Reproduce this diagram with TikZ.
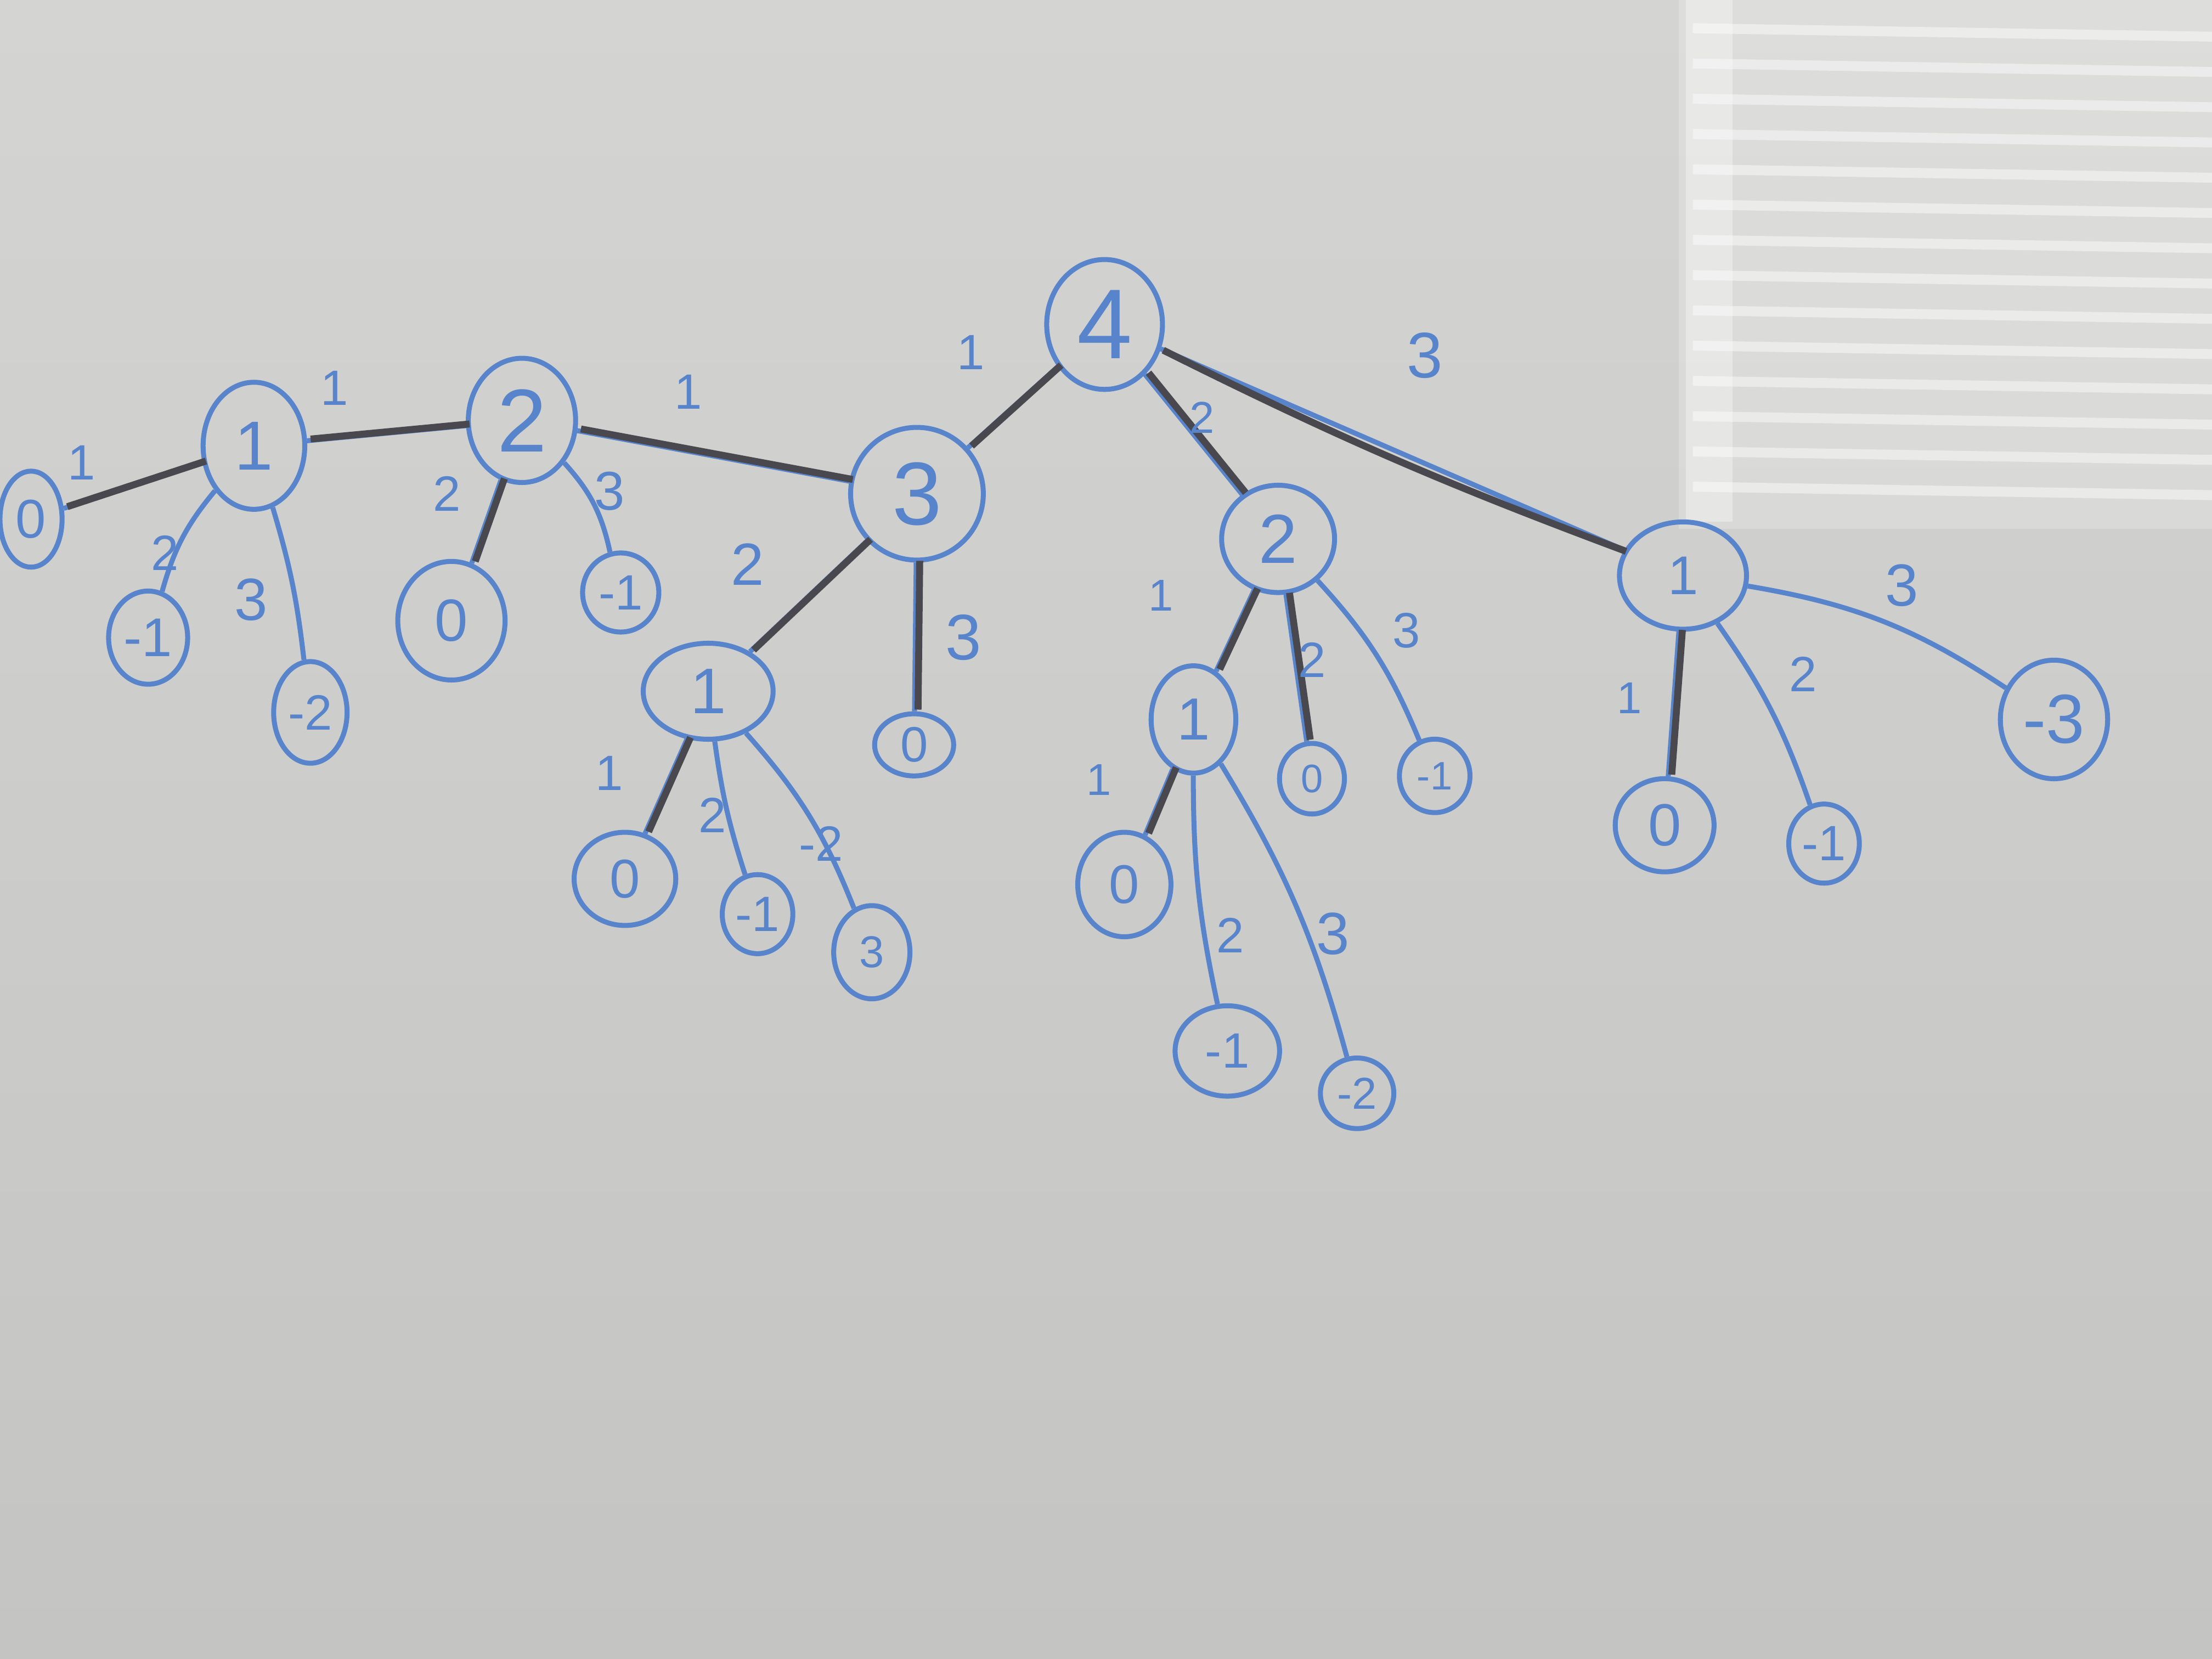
\documentclass[tikz,border=0pt]{standalone}
\usepackage{fontspec}
\setsansfont{Liberation Sans}
\usetikzlibrary{shapes.geometric}
\definecolor{mblue}{RGB}{88,132,204}
\definecolor{mdark}{RGB}{72,72,78}
\definecolor{bgtop}{RGB}{212,212,210}
\definecolor{bgbot}{RGB}{196,196,194}
\tikzset{
  nd/.style={ellipse, draw=mblue, line width=1pt, text=mblue, inner sep=0pt},
  ell/.style n args={3}{minimum width=#1*0.02cm, minimum height=#2*0.02cm, font=\sffamily\fontsize{#3}{#3}\selectfont},
  edge/.style={draw=mblue, line width=1pt},
  hl/.style={draw=mdark, line width=1.4pt, transform canvas={shift={(0.025cm,0.012cm)}}},
  el/.style={text=mblue, font=\sffamily\fontsize{#1}{#1}\selectfont},
  el/.default=10
}
\begin{document}
\begin{tikzpicture}[x=0.01cm, y=-0.01cm]
\useasboundingbox (0,0) rectangle (1568,1176);
% board background
\shade[top color=bgtop, bottom color=bgbot] (0,0) rectangle (1568,1176);
% window reflection
\fill[white, opacity=0.22] (1190,0) rectangle (1568,375);
\foreach \yy in {20,45,70,95,120,145,170,195,220,245,270,295,320,345}
  \draw[white, opacity=0.45, line width=2pt] (1200,\yy) -- (1568,\yy+6);
\fill[white, opacity=0.35] (1195,0) rectangle (1228,370);

% nodes
\node[nd, ell={22}{34}{11}] (n0a) at (22,368) {0};
\node[nd, ell={36}{45}{14}] (n1a) at (180,316) {1};
\node[nd, ell={28}{33}{11}] (n1aL) at (105,452) {-1};
\node[nd, ell={26}{36}{10}] (n1aR) at (220,505) {-2};
\node[nd, ell={38}{44}{18}] (n2a) at (370,298) {2};
\node[nd, ell={38}{42}{12}] (n2aL) at (320,440) {0};
\node[nd, ell={27}{28}{10}] (n2aR) at (440,420) {-1};
\node[nd, ell={47}{47}{18}] (n3) at (650,350) {3};
\node[nd, ell={46}{34}{13}] (n1b) at (502,490) {1};
\node[nd, ell={28}{22}{10}] (n3R) at (648,528) {0};
\node[nd, ell={36}{33}{11}] (n1bA) at (443,623) {0};
\node[nd, ell={25}{28}{10}] (n1bB) at (537,648) {-1};
\node[nd, ell={27}{33}{9}] (n1bC) at (618,675) {3};
\node[nd, ell={41}{46}{20}] (n4) at (783,230) {4};
\node[nd, ell={40}{38}{14}] (n2b) at (906,382) {2};
\node[nd, ell={30}{38}{12}] (n1c) at (846,510) {1};
\node[nd, ell={23}{25}{8}] (n2bM) at (930,552) {0};
\node[nd, ell={25}{26}{8}] (n2bR) at (1017,550) {-1};
\node[nd, ell={33}{37}{11}] (n1cA) at (797,627) {0};
\node[nd, ell={37}{32}{10}] (n1cB) at (870,745) {-1};
\node[nd, ell={26}{25}{9}] (n1cC) at (962,775) {-2};
\node[nd, ell={45}{38}{11}] (n1d) at (1193,408) {1};
\node[nd, ell={35}{33}{12}] (n1dA) at (1180,585) {0};
\node[nd, ell={25}{28}{10}] (n1dB) at (1293,598) {-1};
\node[nd, ell={38}{42}{14}] (n1dC) at (1456,510) {-3};

% blue edges
\draw[edge] (n0a) -- (n1a);
\draw[edge] (n1a) -- (n2a);
\draw[edge] (n1a) to[bend right=12] (n1aL);
\draw[edge] (n1a) to[bend left=5] (n1aR);
\draw[edge] (n2a) -- (n2aL);
\draw[edge] (n2a) to[bend left=15] (n2aR);
\draw[edge] (n2a) -- (n3);
\draw[edge] (n3) -- (n4);
\draw[edge] (n3) -- (n1b);
\draw[edge] (n3) -- (n3R);
\draw[edge] (n1b) -- (n1bA);
\draw[edge] (n1b) to[bend right=5] (n1bB);
\draw[edge] (n1b) to[bend left=10] (n1bC);
\draw[edge] (n4) -- (n2b);
\draw[edge] (n4) -- (n1d);
\draw[edge] (n2b) -- (n1c);
\draw[edge] (n2b) -- (n2bM);
\draw[edge] (n2b) to[bend left=10] (n2bR);
\draw[edge] (n1c) -- (n1cA);
\draw[edge] (n1c) to[bend right=6] (n1cB);
\draw[edge] (n1c) to[bend left=8] (n1cC);
\draw[edge] (n1d) -- (n1dA);
\draw[edge] (n1d) to[bend left=8] (n1dB);
\draw[edge] (n1d) to[bend left=12] (n1dC);

% dark highlighted path
\draw[hl] (n0a) -- (n1a);
\draw[hl] (n1a) -- (n2a);
\draw[hl] (n2a) -- (n2aL);
\draw[hl] (n2a) -- (n3);
\draw[hl] (n3) -- (n4);
\draw[hl] (n3) -- (n1b);
\draw[hl] (n3) -- (n3R);
\draw[hl] (n1b) -- (n1bA);
\draw[hl] (n4) -- (n2b);
\draw[hl] (n4) to[bend right=3] (n1d);
\draw[hl] (n2b) -- (n1c);
\draw[hl] (n2b) -- (n2bM);
\draw[hl] (n1c) -- (n1cA);
\draw[hl] (n1d) -- (n1dA);

% edge labels
\node[el] (l1) at (58,328) {1};
\node[el] (l2) at (237,275) {1};
\node[el] (l3) at (117,392) {2};
\node[el=12] (l4) at (178,425) {3};
\node[el] (l5) at (317,350) {2};
\node[el=11] (l6) at (432,348) {3};
\node[el] (l7) at (488,278) {1};
\node[el] (l8) at (688,250) {1};
\node[el=9] (l9) at (852,296) {2};
\node[el=13] (l10) at (1010,252) {3};
\node[el=12] (l11) at (530,400) {2};
\node[el=13] (l12) at (683,452) {3};
\node[el] (l13) at (432,548) {1};
\node[el] (l14) at (505,578) {2};
\node[el] (l15) at (582,598) {-2};
\node[el=9] (l16) at (823,422) {1};
\node[el] (l17) at (930,468) {2};
\node[el] (l18) at (997,447) {3};
\node[el=9] (l19) at (779,553) {1};
\node[el] (l20) at (872,663) {2};
\node[el=12] (l21) at (945,662) {3};
\node[el=9] (l22) at (1155,495) {1};
\node[el] (l23) at (1278,478) {2};
\node[el=12] (l24) at (1348,415) {3};
\end{tikzpicture}
\end{document}
